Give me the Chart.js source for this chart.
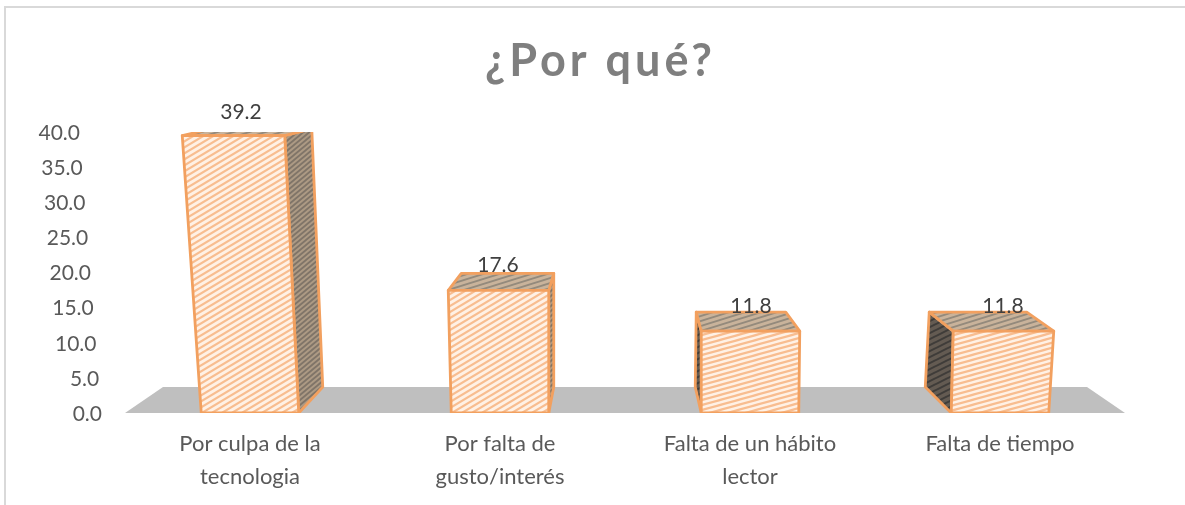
<!DOCTYPE html>
<html>
<head>
<meta charset="utf-8">
<script src="https://cdn.jsdelivr.net/npm/chart.js@4"></script>
<style>
html, body { margin: 0; padding: 0; background: #fff; overflow: hidden; }
#box { position: absolute; left: 0; top: 0; width: 1185px; height: 505px; }
#frame { position: absolute; left: 4px; top: 6px; width: 1181px; height: 499px; border: 2px solid #d9d9d9; border-bottom: none; border-right: none; box-sizing: border-box; }
</style>
</head>
<body>
<div id="box">
  <canvas id="myChart" width="1185" height="505"></canvas>
  <div id="frame"></div>
</div>
<script>
var categories = [["Por culpa de la", "tecnologia"], ["Por falta de", "gusto/interés"], ["Falta de un hábito", "lector"], ["Falta de tiempo"]];
var values = [39.2, 17.6, 11.8, 11.8];
var yTicks = [0, 5, 10, 15, 20, 25, 30, 35, 40];
var titleText = "¿Por qué?";

// offsets of the 3d faces, relative to each bar
var faces = [
  { frontTop: [-19, -14], frontDy: -2, backTop: [11, 13], backY: -7, side: "right", backBase: 24, tile: [10, 6] },
  { frontTop: [-3, 0], frontDy: 1, backTop: [10, 5], backY: -17, side: "right", backBase: 5, tile: [10, 6] },
  { frontTop: [0, 1], frontDy: 1, backTop: [-5, -13], backY: -19, side: "left", backBase: -6, tile: [18, 5] },
  { frontTop: [2, 5], frontDy: 1, backTop: [-22, -22], backY: -19, side: "left", backBase: -26, tile: [18, 5] }
];
var labelShift = [-9, -2, 1, 3];
var labelLift = [25, 24, 24, 24];

function stripes(bg, line, w, h, lw) {
  var c = document.createElement("canvas");
  c.width = w; c.height = h;
  var g = c.getContext("2d");
  g.fillStyle = bg;
  g.fillRect(0, 0, w, h);
  g.strokeStyle = line;
  g.lineWidth = lw;
  g.beginPath();
  g.moveTo(-w, 2 * h); g.lineTo(2 * w, -h);
  g.moveTo(-w, h); g.lineTo(w, -h);
  g.moveTo(0, 2 * h); g.lineTo(2 * w, 0);
  g.stroke();
  return g.createPattern(c, "repeat");
}

function poly(ctx, pts, fill) {
  ctx.beginPath();
  ctx.moveTo(pts[0][0], pts[0][1]);
  for (var i = 1; i < pts.length; i++) ctx.lineTo(pts[i][0], pts[i][1]);
  ctx.closePath();
  ctx.fillStyle = fill;
  ctx.fill();
  ctx.strokeStyle = "#f2a05f";
  ctx.lineWidth = 2.8;
  ctx.lineJoin = "round";
  ctx.stroke();
}

// bar element drawn as a box
class BoxBar extends Chart.BarElement {
  draw(ctx) {
    var i = this.boxIndex;
    var f = faces[i];
    var half = this.width / 2;
    var bl = this.x - half, br = this.x + half;
    var front = this.y + f.frontDy;
    var ftl = [bl + f.frontTop[0], front], ftr = [br + f.frontTop[1], front];
    var back = front + f.backY;
    var btl = [bl + f.backTop[0], back], btr = [br + f.backTop[1], back];
    var backBaseY = this.base - 26;
    var sideColor = i < 2 ? stripes("#ad9a84", "#7f7468", 6, 5, 1.8) : stripes("#645b52", "#3f3c39", 12, 6, 2);
    ctx.save();
    if (f.side == "right") {
      poly(ctx, [ftr, btr, [br + f.backBase, backBaseY], [br, this.base]], sideColor);
    } else {
      poly(ctx, [ftl, btl, [bl + f.backBase, backBaseY], [bl, this.base]], sideColor);
    }
    poly(ctx, [ftl, btl, btr, ftr], stripes("#c9b39b", "#948a7c", 16, 5, 1.8));
    poly(ctx, [[bl, this.base], ftl, ftr, [br, this.base]], stripes("#fff1e5", "#f8bd90", f.tile[0], f.tile[1], 2.2));
    ctx.restore();
  }
}
BoxBar.id = "boxBar";
BoxBar.defaults = Chart.BarElement.defaults;

class BoxController extends Chart.BarController {
  update(mode) {
    super.update(mode);
    this.getMeta().data.forEach(function(el, i) { el.boxIndex = i; });
  }
}
BoxController.id = "boxBars";
BoxController.defaults = Object.assign({}, Chart.BarController.defaults, { dataElementType: "boxBar" });
BoxController.overrides = Chart.BarController.overrides;
Chart.register(BoxBar, BoxController);

var floorPlugin = {
  id: "floor",
  beforeDatasetsDraw: function(chart) {
    var ctx = chart.ctx, x = chart.scales.x, y0 = chart.scales.y.getPixelForValue(0);
    ctx.save();
    ctx.fillStyle = "#bfbfbf";
    ctx.beginPath();
    ctx.moveTo(x.left, y0);
    ctx.lineTo(x.left + 38, y0 - 26);
    ctx.lineTo(x.right - 38, y0 - 26);
    ctx.lineTo(x.right, y0);
    ctx.closePath();
    ctx.fill();
    ctx.restore();
  }
};

var labelPlugin = {
  id: "valueLabels",
  afterDatasetsDraw: function(chart) {
    var ctx = chart.ctx;
    ctx.save();
    ctx.font = "21px Lato";
    ctx.fillStyle = "#404040";
    ctx.textAlign = "center";
    ctx.textBaseline = "middle";
    chart.getDatasetMeta(0).data.forEach(function(el, i) {
      ctx.fillText(values[i].toFixed(1), el.x + labelShift[i], el.y - labelLift[i]);
    });
    ctx.restore();
  }
};

// the y labels lean with the perspective of the box, higher ones further left
var slantedTicks = {
  id: "slantedTicks",
  beforeDraw: function(chart) {
    var s = chart.scales.y;
    s.getLabelItems().forEach(function(item, i) {
      item.options.translation[0] -= s.ticks[i].value * 0.55;
      item.options.translation[1] += 1;
    });
  }
};

// chart.js has no letter spacing option for the title, and the title has to sit over the whole page
var spacedTitle = {
  id: "spacedTitle",
  afterInit: function(chart) {
    var block = chart.titleBlock, draw = block.draw;
    block.draw = function() {
      chart.ctx.save();
      chart.ctx.letterSpacing = "4px";
      chart.ctx.translate(38, 0);
      draw.apply(block, arguments);
      chart.ctx.restore();
    };
  }
};

var ctx = document.getElementById("myChart").getContext("2d");
var myChart = new Chart(ctx, {
  type: "boxBars",
  data: {
    labels: categories,
    datasets: [{ data: values, barPercentage: 0.39, categoryPercentage: 1 }]
  },
  plugins: [floorPlugin, labelPlugin, spacedTitle, slantedTicks],
  options: {
    responsive: false,
    animation: false,
    layout: { padding: { top: 0, right: 60, left: 0, bottom: 0 } },
    plugins: {
      legend: { display: false },
      tooltip: { enabled: false },
      title: {
        display: true,
        text: titleText,
        color: "#7f7f7f",
        font: { family: "Lato", size: 45, weight: "bold" },
        padding: { top: 34, bottom: 44 }
      }
    },
    scales: {
      x: {
        grid: { display: false },
        border: { display: false },
        afterFit: function(s) { s.height = 92; },
        ticks: { color: "#595959", font: { family: "Lato", size: 22, lineHeight: 1.5 }, maxRotation: 0, padding: 6 }
      },
      y: {
        min: 0,
        max: 40,
        grid: { display: false },
        border: { display: false },
        afterFit: function(s) { s.width = 125; },
        afterBuildTicks: function(s) { s.ticks = yTicks.map(function(v) { return { value: v }; }); },
        ticks: {
          color: "#595959",
          font: { family: "Lato", size: 21 },
          padding: 15,
          callback: function(v) { return v.toFixed(1); }
        }
      }
    }
  }
});
</script>
</body>
</html>
